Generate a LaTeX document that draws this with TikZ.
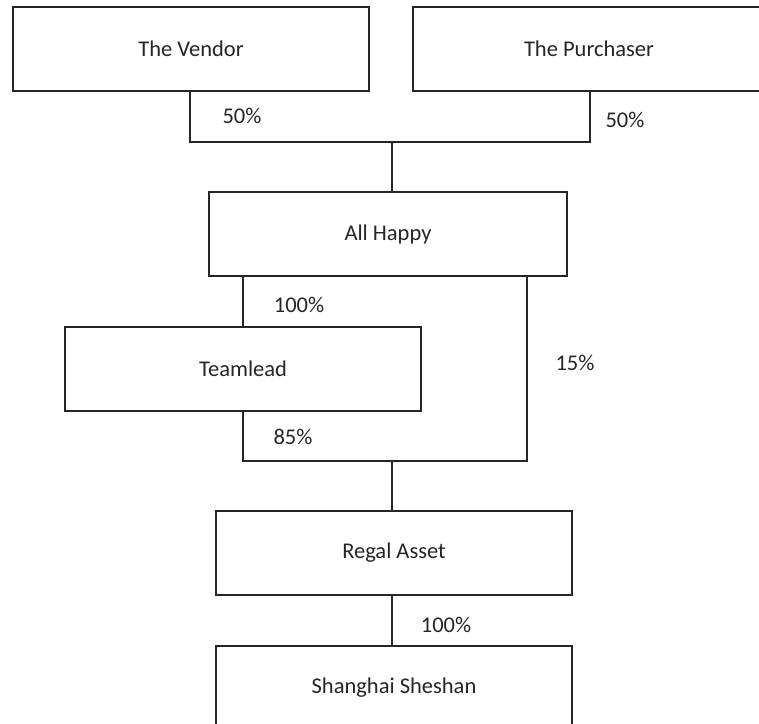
\documentclass[tikz,border=0pt]{standalone}
\usepackage{fontspec}
\setmainfont{Carlito}
\begin{document}
\begin{tikzpicture}[x=1pt,y=-1pt,
  every node/.style={font=\fontsize{22.5}{26}\selectfont, text=black!85},
  entity/.style={draw=black!85, line width=1.3pt, rectangle, minimum height=84pt, inner sep=0pt},
  link/.style={draw=black!85, line width=1.3pt},
  pct/.style={inner sep=0pt}]
\useasboundingbox (0,0) rectangle (759,723);
\fill[white] (0,0) rectangle (759,723);
\node[entity, minimum width=356pt] (vendor) at (191,49) {The Vendor};
\node[entity, minimum width=352pt] (purch) at (589,49) {The Purchaser};
\node[entity, minimum width=358pt] (happy) at (388,234) {All Happy};
\node[entity, minimum width=356pt] (team) at (243,369) {Teamlead};
\node[entity, minimum width=356pt] (regal) at (394,553) {Regal Asset};
\node[entity, minimum width=356pt] (shang) at (394,688) {Shanghai Sheshan};
\coordinate (j1) at (392,142);
\coordinate (j2) at (392,461);
\draw[link] (vendor.south -| 190,0) |- (j1) -| (purch.south -| 590,0);
\draw[link] (j1) -- (happy.north -| j1);
\draw[link] (happy.south -| 243,0) -- (team.north);
\draw[link] (happy.south -| 527,0) |- (j2) -| (team.south);
\draw[link] (j2) -- (regal.north -| j2);
\draw[link] (regal.south -| j2) -- (shang.north -| j2);
\node[pct] (p1) at (242,116) {50\%};
\node[pct] (p2) at (625,120) {50\%};
\node[pct] (p3) at (299,305) {100\%};
\node[pct] (p4) at (575,363) {15\%};
\node[pct] (p5) at (293,437) {85\%};
\node[pct] (p6) at (446,625) {100\%};
\end{tikzpicture}
\end{document}
